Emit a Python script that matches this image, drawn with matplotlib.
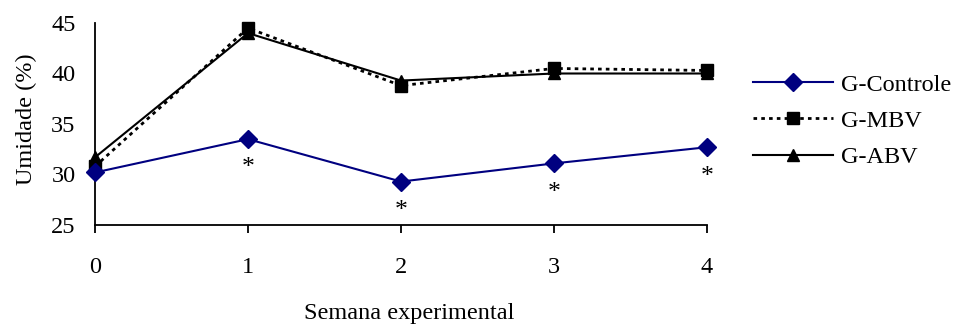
import numpy as np
import matplotlib.pyplot as plt

plt.rcParams['font.family'] = ['Liberation Serif', 'DejaVu Serif']

semanas = [0, 1, 2, 3, 4]
g_controle = [30.2, 33.5, 29.3, 31.1, 32.7]
g_mbv = [30.8, 44.5, 38.8, 40.5, 40.3]
g_abv = [31.7, 44.0, 39.3, 40.0, 40.0]
# semanas com diferença significativa (asterisco sob o G-Controle)
signif = [1, 2, 3, 4]

fs = 17.5

fig = plt.figure(figsize=(9.56, 3.27), dpi=100)
ax = fig.add_axes([95/956, 1 - 225/327, 612/956, 202/327])

ax.plot(semanas, g_controle, color='#000080', lw=1.5, marker='D', ms=9,
        mfc='#000080', mec='#000080', clip_on=False, zorder=4, label='G-Controle')
ax.plot(semanas, g_mbv, color='black', lw=2, ls=(0, (1.3, 1.5)), marker='s', ms=8.5,
        mfc='black', mec='black', clip_on=False, zorder=3, label='G-MBV')
ax.plot(semanas, g_abv, color='black', lw=1.5, marker='^', ms=8.5,
        mfc='black', mec='black', clip_on=False, zorder=3, label='G-ABV')

for s in signif:
    ax.annotate('*', (s, g_controle[s]), xytext=(0, -29), textcoords='offset points',
                ha='center', va='bottom', fontsize=fs + 1)

ax.set_xlim(0, 4)
ax.set_ylim(25, 45)
ax.set_xticks(semanas)
ax.set_yticks([25, 30, 35, 40, 45])
ax.tick_params(axis='x', length=6, width=1.3, direction='out', pad=17, labelsize=fs)
ax.tick_params(axis='y', length=0, pad=14, labelsize=fs)

for side in ['top', 'right']:
    ax.spines[side].set_visible(False)
for side in ['left', 'bottom']:
    ax.spines[side].set_linewidth(1.3)

ax.set_ylabel('Umidade (%)', fontsize=fs)
ax.yaxis.set_label_coords(-0.094, 0.525)
fig.text(409/956, 1 - 313/327, 'Semana experimental', fontsize=fs, ha='center', va='center')

fig.legend(loc='center left', bbox_to_anchor=(753/956, 1 - 121/327), frameon=False,
           fontsize=fs, handlelength=3.3, handletextpad=0.3, labelspacing=0.58,
           borderpad=0, borderaxespad=0)

fig.savefig('out.png', dpi=100)
